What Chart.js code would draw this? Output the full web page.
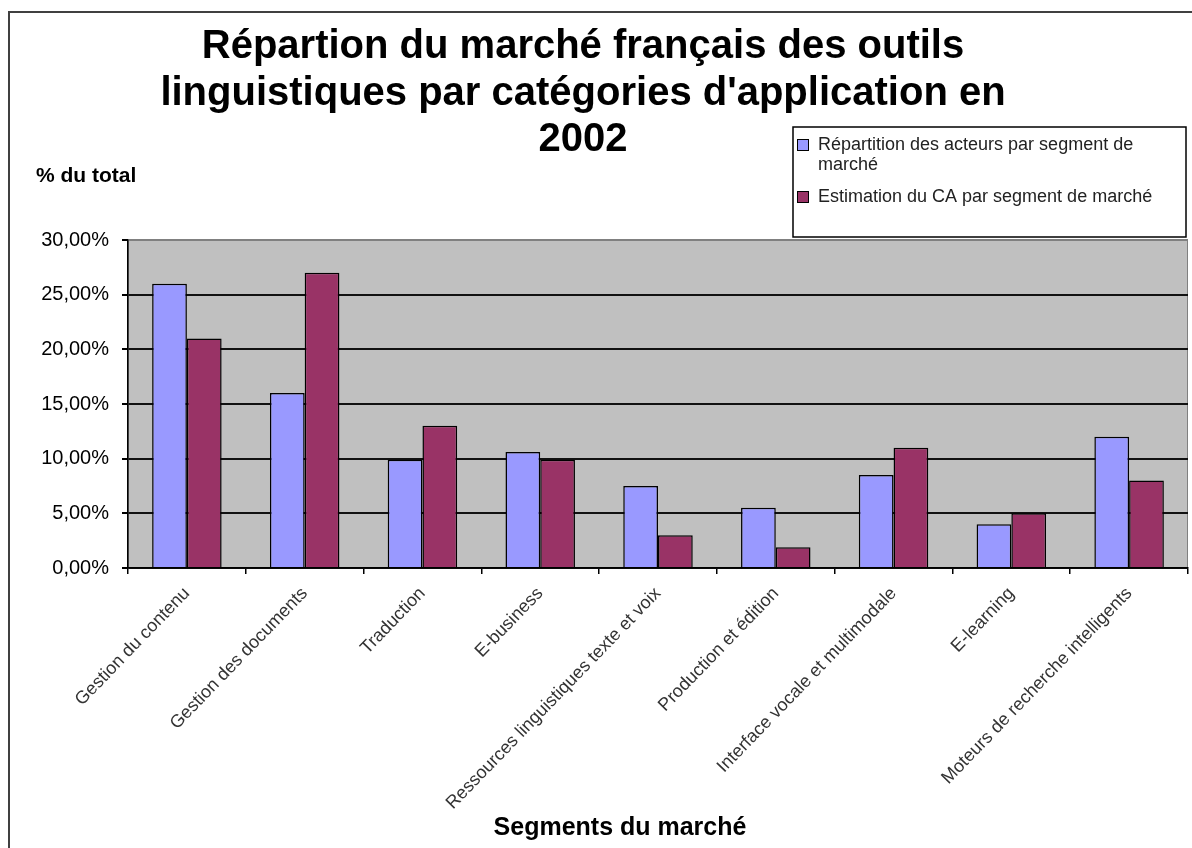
<!DOCTYPE html>
<html>
<head>
<meta charset="utf-8">
<script src="https://cdn.jsdelivr.net/npm/chart.js@4/dist/chart.umd.min.js"></script>
<style>
  html, body { margin: 0; padding: 0; background: #fff; }
  #wrap { width: 1192px; height: 848px; position: relative; }
</style>
</head>
<body>
<div id="wrap"><canvas id="BarChart" width="1192" height="848"></canvas></div>
<script>
const categories = [
    'Gestion du contenu',
    'Gestion des documents',
    'Traduction',
    'E-business',
    'Ressources linguistiques texte et voix',
    'Production et édition',
    'Interface vocale et multimodale',
    'E-learning',
    'Moteurs de recherche intelligents'
];

// parts in fraction of total
const acteurs = [0.26, 0.16, 0.099, 0.106, 0.075, 0.055, 0.085, 0.04, 0.12];
const chiffreAffaires = [0.21, 0.27, 0.13, 0.099, 0.03, 0.019, 0.11, 0.05, 0.08];

const seriesLabels = [
    'Répartition des acteurs par segment de marché',
    'Estimation du CA par segment de marché'
];
const yTicks = [0, 0.05, 0.10, 0.15, 0.20, 0.25, 0.30];

const FONT = '"Liberation Sans", Arial, sans-serif';

function pct(v) {
    return (v * 100).toFixed(2).replace('.', ',') + '%';
}

// grey plot area + white page
const background = {
    id: 'background',
    beforeDraw(chart) {
        const c = chart.ctx, a = chart.chartArea;
        c.save();
        c.fillStyle = '#fff';
        c.fillRect(0, 0, chart.width, chart.height);
        c.fillStyle = '#c0c0c0';
        c.fillRect(a.left, a.top, a.right - a.left, a.bottom - a.top);
        c.strokeStyle = '#808080';
        c.lineWidth = 1;
        c.strokeRect(a.left + 0.5, a.top + 0.5, a.right - a.left - 1, a.bottom - a.top - 1);
        c.restore();
    }
};

// titles, legend box, outer frame
const decor = {
    id: 'decor',
    afterDraw(chart) {
        const c = chart.ctx;
        c.save();
        c.fillStyle = '#000';
        c.textBaseline = 'middle';

        c.textAlign = 'center';
        c.font = 'bold 40px ' + FONT;
        const title = [
            'Répartion du marché français des outils',
            "linguistiques par catégories d'application en",
            '2002'
        ];
        title.forEach((t, i) => c.fillText(t, 583, 47 + i * 46.5));

        c.textAlign = 'left';
        c.font = 'bold 21px ' + FONT;
        c.fillText('% du total', 36, 176);

        c.textAlign = 'center';
        c.font = 'bold 25px ' + FONT;
        c.fillText('Segments du marché', 620, 828);

        // legend
        c.fillStyle = '#fff';
        c.fillRect(793, 127, 393, 110);
        c.strokeStyle = '#000';
        c.lineWidth = 1.5;
        c.strokeRect(793, 127, 393, 110);
        c.textAlign = 'left';
        c.font = '18px ' + FONT;
        const ds = chart.data.datasets;
        const rows = [
            { y: 145, lines: ['Répartition des acteurs par segment de', 'marché'] },
            { y: 197, lines: [ds[1].label] }
        ];
        rows.forEach((r, i) => {
            c.fillStyle = ds[i].backgroundColor;
            c.fillRect(797, r.y - 6, 12, 12);
            c.strokeStyle = '#000';
            c.lineWidth = 1;
            c.strokeRect(797.5, r.y - 5.5, 11, 11);
            c.fillStyle = '#222';
            r.lines.forEach((l, j) => c.fillText(l, 818, r.y + j * 20));
        });

        // outer frame
        c.strokeStyle = '#404040';
        c.lineWidth = 2;
        c.strokeRect(9, 12, 1200, 860);
        c.restore();
    }
};

const data = {
    labels: categories,
    datasets: [
        {
            label: seriesLabels[0],
            data: acteurs,
            backgroundColor: '#9999ff',
            borderColor: '#000',
            borderWidth: 1.5
        },
        {
            label: seriesLabels[1],
            data: chiffreAffaires,
            backgroundColor: '#993366',
            borderColor: '#000',
            borderWidth: 1.5
        }
    ]
};

const config = {
    type: 'bar',
    data: data,
    options: {
        responsive: false,
        animation: false,
        layout: { padding: { top: 240, right: 4, left: 0, bottom: 0 } },
        datasets: {
            bar: { categoryPercentage: 0.59, barPercentage: 1.0 }
        },
        plugins: {
            legend: { display: false },
            title: { display: false },
            tooltip: { enabled: false }
        },
        scales: {
            x: {
                afterFit(s) { s.height = 280; },
                grid: {
                    drawOnChartArea: false,
                    color: '#000',
                    tickLength: 6,
                    lineWidth: 1.5
                },
                border: { color: '#000', width: 1.5 },
                ticks: {
                    minRotation: 46,
                    maxRotation: 46,
                    autoSkip: false,
                    padding: 9,
                    color: '#333',
                    font: { family: FONT, size: 18 }
                }
            },
            y: {
                min: 0,
                max: 0.3,
                afterFit(s) { s.width = 128; },
                afterBuildTicks(s) { s.ticks = yTicks.map(v => ({ value: v })); },
                grid: {
                    color: (ctx) => (ctx.tick && ctx.tick.value >= 0.3 ? '#808080' : '#111'),
                    tickColor: '#000',
                    lineWidth: 2,
                    tickLength: 6
                },
                border: { color: '#000', width: 1.5 },
                ticks: {
                    padding: 13,
                    color: '#000',
                    font: { family: FONT, size: 20 },
                    callback: (v) => pct(v)
                }
            }
        }
    },
    plugins: [background, decor]
};

const myChart = new Chart(
    document.getElementById('BarChart'),
    config
);
</script>
</body>
</html>
